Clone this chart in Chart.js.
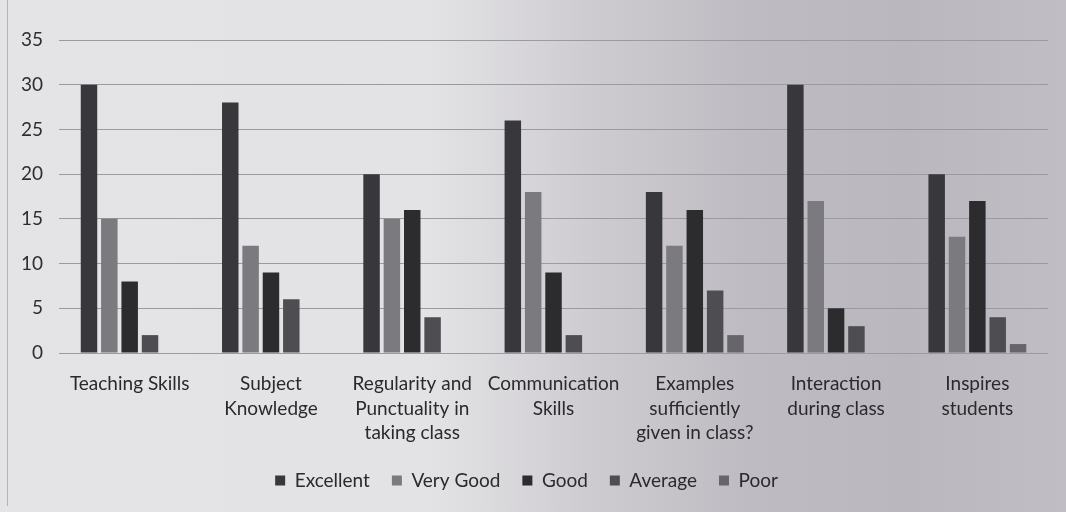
<!DOCTYPE html>
<html>
<head>
<meta charset="utf-8">
<script src="https://cdn.jsdelivr.net/npm/chart.js@4"></script>
<style>
  html, body { margin: 0; padding: 0; }
  body {
    width: 1066px; height: 512px; overflow: hidden;
    background: linear-gradient(to right, #e4e4e6 0%, #e3e3e5 40%, #cfccd1 55%, #bfbbc2 70%, #bbb7be 85%, #c1bdc4 100%);
  }
  #wrap { position: relative; width: 1066px; height: 512px; }
  #frame { position: absolute; left: 7px; top: 0; width: 0; height: 506px; border-left: 1px solid #b4b4b8; }
</style>
</head>
<body>
<div id="wrap"><div id="frame"></div><canvas id="feedback"></canvas></div>
<script>
var categories = [
  "Teaching Skills",
  ["Subject", "Knowledge"],
  ["Regularity and", "Punctuality in", "taking class"],
  ["Communication", "Skills"],
  ["Examples", "sufficiently", "given in class?"],
  ["Interaction", "during class"],
  ["Inspires", "students"]
];
var excellent = [30, 28, 20, 26, 18, 30, 20];
var veryGood  = [15, 12, 15, 18, 12, 17, 13];
var good      = [8, 9, 16, 9, 16, 5, 17];
var average   = [2, 6, 4, 2, 7, 3, 4];
var poor      = [0, 0, 0, 0, 2, 0, 1];
var yTicks = [0, 5, 10, 15, 20, 25, 30, 35];

document.addEventListener("DOMContentLoaded", function () {
  var font = "Lato, 'Open Sans', sans-serif";

  var ctx = document.getElementById('feedback').getContext('2d');
  window.myBar = new Chart(ctx, {
    type: 'bar',
    data: {
      labels: categories,
      datasets: [
        { label: 'Excellent', data: excellent, backgroundColor: '#38373b' },
        { label: 'Very Good', data: veryGood, backgroundColor: '#7b7a7e' },
        { label: 'Good', data: good, backgroundColor: '#2c2b2e' },
        { label: 'Average', data: average, backgroundColor: '#4e4d52' },
        { label: 'Poor', data: poor, backgroundColor: '#66656a' }
      ]
    },
    options: {
      responsive: true,
      maintainAspectRatio: false,
      animation: false,
      layout: { padding: { top: 40, right: 18, left: 5, bottom: 12 } },
      datasets: { bar: { categoryPercentage: 0.72, barPercentage: 0.81 } },
      plugins: {
        legend: {
          position: 'bottom',
          labels: {
            boxWidth: 10, boxHeight: 10, padding: 22,
            color: '#2a2a2c',
            font: { family: font, size: 19 }
          }
        },
        tooltip: { enabled: false }
      },
      scales: {
        x: {
          grid: { display: false },
          border: { display: false },
          afterFit: function (axis) { axis.height = 96; },
          ticks: {
            autoSkip: false, maxRotation: 0, minRotation: 0, padding: 11,
            color: '#2a2a2c',
            font: { family: font, size: 19, lineHeight: 1.29 }
          }
        },
        y: {
          min: 0, max: 35,
          afterBuildTicks: function (axis) {
            axis.ticks = yTicks.map(function (v) { return { value: v }; });
          },
          grid: { color: '#9b9aa0', lineWidth: 1, drawTicks: false },
          border: { display: false },
          ticks: {
            padding: 16,
            color: '#2e2e30',
            font: { family: font, size: 19 }
          }
        }
      }
    }
  });
});
</script>
</body>
</html>
